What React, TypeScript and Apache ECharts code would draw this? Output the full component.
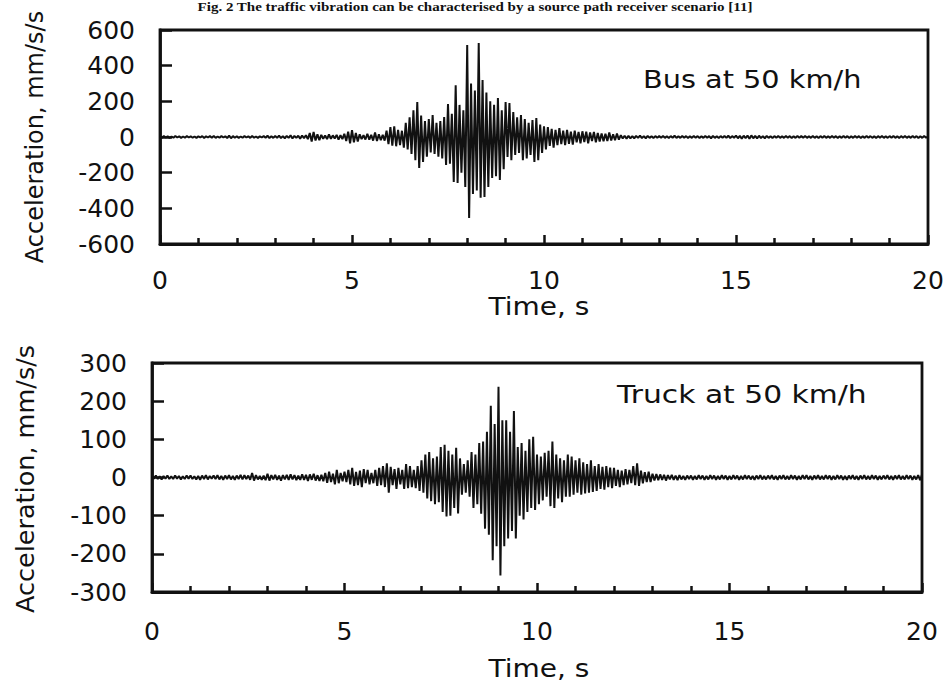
import React, { useEffect, useRef } from "react";
import * as echarts from "echarts";

// sample spacing of the recordings, seconds
const DT = 0.05;

// Bus at 50 km/h, acceleration in mm/s/s, one row per second (20 samples)
const busAccel = [
  3, -4, 5, -3, 4, -5, 3, -4, 6, -3, 4, -5, 3, -4, 5, -3, 4, -4, 3, -5,
  4, -3, 5, -6, 4, -3, 5, -4, 6, -5, 3, -4, 5, -3, 4, -6, 8, -7, 5, -4,
  4, -5, 3, -4, 5, -3, 4, -5, 6, -4, 3, -5, 4, -3, 5, -4, 7, -6, 4, -5,
  6, -5, 8, -6, 5, -7, 6, -5, 9, -8, 6, -5, 7, -9, 8, -6, 10, -12, 22, -25,
  28, -20, 15, -18, 12, -10, 8, -12, 14, -10, 9, -8, 12, -15, 10, -12, 18, -22, 30, -35,
  38, -30, 22, -25, 15, -12, 10, -14, 18, -15, 12, -20, 25, -22, 15, -18, 12, -20, 35, -40,
  55, -48, 60, -52, 40, -45, 35, -60, 80, -70, 110, -95, 150, -130, 196, -174, 120, -140, 90, -110,
  100, -86, 123, -95, 80, -110, 90, -120, 112, -157, 185, -150, 130, -252, 290, -258, 180, -200, 150, -280,
  516, -454, 300, -320, 260, -300, 527, -340, 320, -336, 250, -280, 200, -230, 180, -220, 219, -241, 150, -180,
  196, -112, 190, -130, 140, -100, 110, -90, 123, -130, 100, -120, 80, -100, 95, -140, 106, -130, 70, -90,
  60, -70, 55, -50, 45, -60, 40, -45, 50, -40, 35, -45, 40, -38, 30, -42, 35, -30, 28, -35,
  32, -28, 30, -35, 25, -22, 28, -30, 22, -25, 20, -24, 18, -22, 25, -20, 15, -18, 20, -15,
  10, -8, 7, -9, 6, -8, 5, -7, 6, -5, 8, -6, 5, -7, 6, -5, 4, -6, 5, -4,
  5, -4, 6, -5, 4, -6, 5, -4, 7, -5, 4, -5, 6, -4, 5, -6, 4, -5, 6, -4,
  5, -6, 4, -5, 6, -4, 5, -7, 6, -5, 4, -6, 5, -4, 6, -5, 7, -6, 5, -4,
  8, -7, 6, -9, 7, -6, 8, -10, 9, -7, 6, -8, 7, -6, 5, -7, 6, -5, 4, -6,
  5, -4, 6, -5, 4, -5, 6, -4, 5, -6, 4, -5, 6, -4, 5, -4, 6, -5, 4, -5,
  6, -5, 4, -6, 5, -4, 6, -5, 4, -5, 6, -4, 5, -6, 4, -5, 6, -4, 5, -6,
  4, -5, 6, -4, 5, -6, 4, -5, 6, -4, 5, -5, 4, -6, 5, -4, 6, -5, 4, -5,
  5, -4, 6, -5, 4, -6, 5, -4, 6, -5, 4, -5, 6, -4, 5, -6, 4, -5, 6, -4,
  3,
];

// Truck at 50 km/h, acceleration in mm/s/s, one row per second (20 samples)
const truckAccel = [
  4, -3, 5, -4, 3, -5, 4, -3, 5, -4, 3, -4, 5, -3, 4, -5, 3, -4, 5, -3,
  5, -4, 3, -5, 4, -6, 5, -4, 6, -5, 4, -3, 5, -4, 6, -5, 4, -6, 5, -4,
  6, -5, 4, -6, 5, -4, 7, -5, 6, -4, 5, -6, 12, -8, 6, -5, 4, -6, 5, -7,
  10, -8, 6, -5, 7, -6, 5, -8, 6, -5, 7, -6, 8, -5, 6, -7, 5, -6, 8, -6,
  7, -9, 8, -6, 10, -8, 6, -9, 7, -10, 12, -14, 15, -12, 10, -18, 20, -15, 12, -10,
  15, -12, 20, -18, 25, -22, 15, -20, 18, -25, 22, -15, 20, -18, 12, -15, 20, -22, 25, -20,
  30, -25, 37, -40, 28, -20, 22, -30, 25, -18, 20, -30, 35, -28, 30, -25, 20, -28, 30, -35,
  45, -40, 60, -55, 67, -62, 50, -70, 55, -65, 80, -90, 86, -102, 70, -100, 60, -80, 78, -94,
  50, -45, 35, -40, 45, -50, 67, -80, 60, -70, 90, -95, 94, -134, 120, -150, 188, -217, 140, -180,
  238, -257, 150, -180, 150, -160, 120, -140, 174, -160, 80, -100, 90, -110, 70, -90, 100, -80, 107, -85,
  60, -70, 55, -60, 65, -50, 70, -75, 94, -80, 60, -55, 50, -65, 45, -50, 60, -50, 55, -45,
  45, -40, 50, -45, 40, -42, 35, -40, 45, -38, 30, -35, 35, -30, 28, -32, 30, -25, 26, -28,
  25, -22, 20, -25, 18, -20, 22, -18, 20, -15, 30, -20, 37, -22, 18, -15, 14, -12, 15, -12,
  10, -8, 9, -7, 8, -6, 7, -8, 6, -5, 7, -6, 5, -7, 6, -5, 4, -6, 5, -4,
  5, -6, 4, -5, 6, -4, 5, -6, 4, -5, 6, -4, 5, -6, 4, -5, 6, -4, 5, -6,
  4, -5, 6, -4, 5, -6, 4, -5, 6, -4, 5, -5, 4, -6, 5, -4, 6, -5, 4, -5,
  5, -4, 6, -5, 4, -6, 5, -4, 6, -5, 4, -5, 6, -4, 5, -6, 4, -5, 6, -4,
  6, -5, 4, -6, 5, -4, 6, -5, 4, -5, 6, -4, 5, -6, 4, -5, 6, -4, 5, -6,
  4, -6, 5, -4, 6, -5, 4, -6, 5, -4, 6, -5, 4, -5, 6, -4, 5, -6, 4, -5,
  5, -4, 6, -5, 4, -6, 5, -4, 6, -5, 4, -5, 6, -4, 5, -6, 4, -5, 6, -7,
  8,
];

// axis tick values
const timeTicks = [0, 5, 10, 15, 20];
const busTicks = [-600, -400, -200, 0, 200, 400, 600];
const truckTicks = [-300, -200, -100, 0, 100, 200, 300];

const TITLE =
  "Fig. 2 The traffic vibration can be characterised by a source path receiver scenario [11]";
const Y_NAME = "Acceleration, mm/s/s";
const X_NAME = "Time, s";
const BUS_LABEL = "Bus at 50 km/h";
const TRUCK_LABEL = "Truck at 50 km/h";

const INK = "#111111";
const FONT = "DejaVu Sans";

function toPairs(values: number[]) {
  return values.map((v, i) => [+(i * DT).toFixed(2), v]);
}

function xAxisFor(gridIndex: number, margin: number) {
  return {
    gridIndex,
    type: "value",
    min: timeTicks[0],
    max: timeTicks[timeTicks.length - 1],
    interval: timeTicks[1] - timeTicks[0],
    axisLine: { show: true, onZero: false, lineStyle: { color: INK, width: 2.8 } },
    axisTick: { show: true, inside: true, length: 9, lineStyle: { color: INK, width: 2.5 } },
    minorTick: { show: true, splitNumber: 5, length: 6, lineStyle: { color: INK, width: 2.5 } },
    axisLabel: { margin, fontSize: 25, color: INK, fontFamily: FONT },
    splitLine: { show: false },
    minorSplitLine: { show: false },
  };
}

function yAxisFor(gridIndex: number, ticks: number[]) {
  return {
    gridIndex,
    type: "value",
    min: ticks[0],
    max: ticks[ticks.length - 1],
    interval: ticks[1] - ticks[0],
    axisLine: { show: true, onZero: false, lineStyle: { color: INK, width: 2.8 } },
    axisTick: { show: true, inside: true, length: 12, lineStyle: { color: INK, width: 2.5 } },
    axisLabel: { margin: 25, fontSize: 25, color: INK, fontFamily: FONT },
    splitLine: { show: false },
  };
}

function textEl(text: string, x: number, y: number, size: number, extra: any = {}) {
  const { align, ...rest } = extra;
  return {
    type: "text",
    x,
    y,
    silent: true,
    ...rest,
    style: {
      text,
      fill: INK,
      font: `${size}px "${FONT}"`,
      textAlign: align || "left",
      textVerticalAlign: "middle",
    },
  };
}

export default function App() {
  const ref = useRef<HTMLDivElement>(null);

  useEffect(() => {
    if (!ref.current) return;
    const chart = echarts.init(ref.current, null, { renderer: "svg" });
    const option: any = {
      animation: false,
      backgroundColor: "#ffffff",
      grid: [
        { left: 160, top: 30, width: 768, height: 214, show: true, borderColor: INK, borderWidth: 2.8, backgroundColor: "transparent" },
        { left: 152, top: 363, width: 770, height: 229, show: true, borderColor: INK, borderWidth: 2.8, backgroundColor: "transparent" },
      ],
      xAxis: [xAxisFor(0, 24), xAxisFor(1, 27)],
      yAxis: [yAxisFor(0, busTicks), yAxisFor(1, truckTicks)],
      series: [
        {
          name: BUS_LABEL,
          type: "line",
          xAxisIndex: 0,
          yAxisIndex: 0,
          data: toPairs(busAccel),
          showSymbol: false,
          symbol: "none",
          lineStyle: { color: INK, width: 2 },
          silent: true,
        },
        {
          name: TRUCK_LABEL,
          type: "line",
          xAxisIndex: 1,
          yAxisIndex: 1,
          data: toPairs(truckAccel),
          showSymbol: false,
          symbol: "none",
          lineStyle: { color: INK, width: 2 },
          silent: true,
        },
      ],
      graphic: [
        {
          type: "text",
          x: 475,
          y: 1,
          scaleX: 1.25,
          silent: true,
          style: {
            text: TITLE,
            fill: "#111",
            font: 'bold 12px "Liberation Serif"',
            textAlign: "center",
            textVerticalAlign: "top",
          },
        },
        textEl(Y_NAME, 35, 137, 24, { rotation: Math.PI / 2, align: "center" }),
        textEl(Y_NAME, 25, 479, 25.5, { rotation: Math.PI / 2, align: "center" }),
        textEl(X_NAME, 539, 306, 25, { scaleX: 1.12, align: "center" }),
        textEl(X_NAME, 539, 668, 25, { scaleX: 1.12, align: "center" }),
        textEl(BUS_LABEL, 643, 79, 25, { scaleX: 1.15 }),
        textEl(TRUCK_LABEL, 617, 394, 25, { scaleX: 1.19 }),
      ],
    };
    chart.setOption(option);
    return () => chart.dispose();
  }, []);

  return (
    <div
      ref={ref}
      style={{ position: "absolute", left: 0, top: 0, width: 949, height: 684 }}
    />
  );
}
